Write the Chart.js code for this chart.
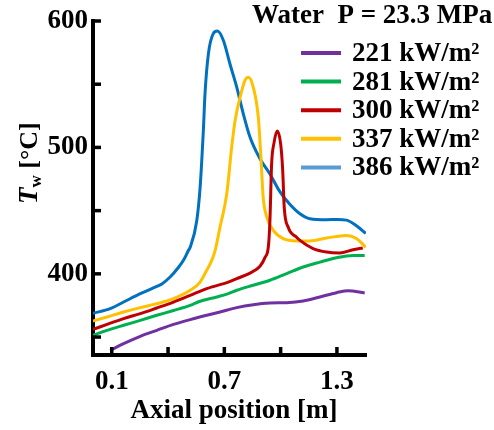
<!DOCTYPE html>
<html>
<head>
<meta charset="utf-8">
<script src="https://cdn.jsdelivr.net/npm/chart.js@4.4.1/dist/chart.umd.min.js"></script>
<style>
  html, body { margin: 0; padding: 0; background: #ffffff; }
  #wrap { width: 494px; height: 430px; position: relative; }
</style>
</head>
<body>
<div id="wrap"><canvas id="c" width="494" height="430"></canvas></div>
<script>
// Wall temperature along the heated tube, supercritical water at 23.3 MPa
const legendTitle = 'Water  P = 23.3 MPa';
const xAxisTitle = 'Axial position [m]';
const seriesLabels = ['221 kW/m²', '281 kW/m²', '300 kW/m²', '337 kW/m²', '386 kW/m²'];

// axial position [m] and wall temperature [°C] for each heat flux
const pos221 = [0.092, 0.163, 0.252, 0.340, 0.429, 0.518, 0.606, 0.677, 0.766, 0.854, 0.943, 1.032, 1.120, 1.209, 1.298, 1.360, 1.448];
const tw221  = [339.5, 344.8, 350.6, 355.3, 360.0, 363.8, 367.2, 369.8, 373.3, 375.6, 376.9, 377.2, 378.5, 381.7, 385.1, 386.7, 384.8];

const pos281 = [0.0, 0.075, 0.163, 0.252, 0.340, 0.429, 0.518, 0.571, 0.660, 0.721, 0.766, 0.854, 0.943, 1.032, 1.120, 1.209, 1.298, 1.386, 1.448];
const tw281  = [351.4, 355.3, 359.3, 363.2, 367.2, 371.0, 375.0, 378.3, 381.7, 384.3, 387.0, 391.0, 394.9, 400.2, 405.4, 409.3, 412.8, 414.6, 414.6];

const pos300 = [0.0, 0.075, 0.163, 0.252, 0.340, 0.429, 0.518, 0.606, 0.721, 0.766, 0.837, 0.890, 0.917, 0.935, 0.943, 0.952, 0.964, 0.982, 1.000, 1.011, 1.019, 1.040, 1.085, 1.103, 1.173, 1.245, 1.315, 1.386, 1.438];
const tw300  = [356.0, 360.0, 364.6, 368.5, 373.0, 377.7, 383.0, 388.3, 393.5, 396.2, 400.6, 406.0, 413.0, 422.0, 442.0, 487.0, 503.0, 513.0, 503.0, 482.0, 453.0, 437.0, 429.0, 426.5, 420.0, 417.2, 416.5, 419.0, 420.5];

const pos337 = [0.0, 0.075, 0.163, 0.252, 0.340, 0.429, 0.518, 0.571, 0.606, 0.633, 0.651, 0.677, 0.713, 0.739, 0.757, 0.784, 0.810, 0.828, 0.854, 0.881, 0.894, 0.907, 0.926, 0.961, 1.014, 1.085, 1.156, 1.245, 1.351, 1.404, 1.454];
const tw337  = [362.7, 365.9, 369.8, 373.3, 376.4, 380.4, 387.0, 393.5, 402.8, 410.7, 418.6, 437.0, 463.4, 500.0, 521.0, 539.8, 553.0, 555.6, 547.7, 524.0, 495.0, 460.7, 445.0, 434.4, 427.8, 426.0, 426.0, 428.3, 430.4, 428.0, 421.0];

const pos386 = [0.0, 0.092, 0.163, 0.252, 0.340, 0.367, 0.411, 0.455, 0.482, 0.509, 0.518, 0.553, 0.571, 0.588, 0.597, 0.615, 0.641, 0.663, 0.695, 0.730, 0.766, 0.801, 0.837, 0.890, 0.943, 0.996, 1.049, 1.103, 1.156, 1.245, 1.300, 1.351, 1.404, 1.454];
const tw386  = [368.8, 372.5, 377.7, 384.3, 390.0, 392.0, 397.5, 405.0, 410.7, 418.6, 421.0, 442.0, 468.6, 513.0, 542.5, 574.0, 590.0, 592.0, 584.6, 566.0, 547.7, 526.6, 508.0, 491.0, 479.0, 465.0, 455.0, 447.5, 443.6, 442.8, 443.0, 442.5, 438.0, 432.0];

// axis ticks
const xTickValues = [0.1, 0.4, 0.7, 1.0, 1.3];
const xTickLabels = ['0.1', '', '0.7', '', '1.3'];
const yTickValues = [350, 400, 450, 500, 550, 600];
const yTickLabels = ['', '400', '', '500', '', '600'];

const FONT = '"Liberation Serif", "Times New Roman", serif';
const lineColors   = ['#7030A0', '#00B050', '#C00000', '#FFC000', '#0070C0'];
const legendColors = ['#7030A0', '#00B050', '#C00000', '#FFC000', '#5B9BD5'];

const posList = [pos221, pos281, pos300, pos337, pos386];
const twList  = [tw221, tw281, tw300, tw337, tw386];

const datasets = seriesLabels.map((label, i) => ({
  label,
  data: posList[i].map((x, k) => ({ x, y: twList[i][k] })),
  borderColor: lineColors[i],
  legendColor: legendColors[i],
  borderWidth: 3,
  pointRadius: 0,
  fill: false,
  cubicInterpolationMode: 'monotone'
}));

// inward tick marks, axis titles and the legend block
const decor = {
  id: 'decor',
  afterDraw(chart) {
    const { ctx, chartArea: a } = chart;
    const xs = chart.scales.x, ys = chart.scales.y;
    ctx.save();
    ctx.strokeStyle = '#000';
    ctx.lineWidth = 3.5;
    ctx.lineCap = 'butt';
    xTickValues.forEach(v => {
      const px = xs.getPixelForValue(v);
      ctx.beginPath(); ctx.moveTo(px, a.bottom); ctx.lineTo(px, a.bottom - 8); ctx.stroke();
    });
    yTickValues.forEach(v => {
      const py = ys.getPixelForValue(v);
      ctx.beginPath(); ctx.moveTo(a.left, py); ctx.lineTo(a.left + 8, py); ctx.stroke();
    });

    ctx.fillStyle = '#000';
    // x axis title
    ctx.font = 'bold 27px ' + FONT;
    ctx.textAlign = 'center';
    ctx.textBaseline = 'alphabetic';
    ctx.fillText(xAxisTitle, 234, 418);

    // y axis title: T_w [°C], read bottom to top
    ctx.save();
    ctx.translate(37, 204);
    ctx.rotate(-Math.PI / 2);
    ctx.textAlign = 'left';
    let cx = 0;
    ctx.font = 'italic bold 27px ' + FONT;
    ctx.fillText('T', cx, 0);
    cx += ctx.measureText('T').width;
    ctx.font = 'bold 17px ' + FONT;
    ctx.fillText('w', cx, 4);
    cx += ctx.measureText('w').width;
    ctx.font = 'bold 26px ' + FONT;
    ctx.fillText(' [°C]', cx, 0);
    ctx.restore();

    // legend
    ctx.font = 'bold 27px ' + FONT;
    ctx.textAlign = 'left';
    ctx.textBaseline = 'alphabetic';
    ctx.fillText(legendTitle, 252, 23);
    ctx.textBaseline = 'middle';
    chart.data.datasets.forEach((ds, i) => {
      const y = 53 + i * 28.6;
      ctx.strokeStyle = ds.legendColor;
      ctx.lineWidth = 4;
      ctx.beginPath(); ctx.moveTo(301, y); ctx.lineTo(341, y); ctx.stroke();
      ctx.fillStyle = '#000';
      ctx.fillText(ds.label, 352, y + 1);
    });
    ctx.restore();
  }
};

new Chart(document.getElementById('c'), {
  type: 'line',
  data: { datasets },
  options: {
    responsive: false,
    devicePixelRatio: 1,
    animation: false,
    layout: { padding: { left: 0, top: 21, right: 128, bottom: 0 } },
    plugins: { legend: { display: false }, tooltip: { enabled: false } },
    scales: {
      x: {
        type: 'linear',
        min: 0,
        max: 1.455,
        afterBuildTicks: s => { s.ticks = xTickValues.map(v => ({ value: v })); },
        afterFit: s => { s.height = 75; s.paddingLeft = 0; s.paddingRight = 0; },
        grid: { display: false, drawTicks: false },
        border: { display: true, color: '#000', width: 4 },
        ticks: {
          autoSkip: false,
          maxRotation: 0,
          padding: 11,
          color: '#000',
          font: { family: FONT, size: 27, weight: 'bold' },
          callback: v => xTickLabels[xTickValues.findIndex(t => Math.abs(t - v) < 1e-6)] ?? ''
        }
      },
      y: {
        type: 'linear',
        min: 335.8,
        max: 600,
        afterBuildTicks: s => { s.ticks = yTickValues.map(v => ({ value: v })); },
        afterFit: s => { s.width = 93; s.paddingTop = 0; s.paddingBottom = 0; },
        grid: { display: false, drawTicks: false },
        border: { display: true, color: '#000', width: 4 },
        ticks: {
          padding: 5,
          color: '#000',
          font: { family: FONT, size: 27, weight: 'bold' },
          callback: v => yTickLabels[yTickValues.indexOf(v)] ?? ''
        }
      }
    }
  },
  plugins: [decor]
});
</script>
</body>
</html>
